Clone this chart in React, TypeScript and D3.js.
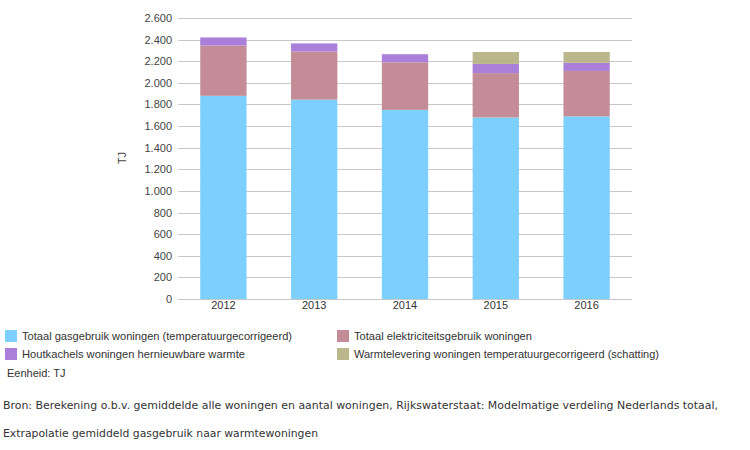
import React from "react";
import * as d3 from "d3";

const years = ["2012", "2013", "2014", "2015", "2016"];
const gas = [1880, 1845, 1750, 1680, 1690];
const elec = [465, 445, 440, 410, 420];
const wood = [75, 75, 75, 85, 75];
const heat = [0, 0, 0, 110, 100];
const yTicks = [0, 200, 400, 600, 800, 1000, 1200, 1400, 1600, 1800, 2000, 2200, 2400, 2600];

const seriesNames = [
  "Totaal gasgebruik woningen (temperatuurgecorrigeerd)",
  "Totaal elektriciteitsgebruik woningen",
  "Houtkachels woningen hernieuwbare warmte",
  "Warmtelevering woningen temperatuurgecorrigeerd (schatting)",
];
const colors = ["#7dd0fd", "#c48c97", "#a97fda", "#bbb78c"];
const unitText = "Eenheid: TJ";
const sourceLine1 =
  "Bron: Berekening o.b.v. gemiddelde alle woningen en aantal woningen, Rijkswaterstaat: Modelmatige verdeling Nederlands totaal,";
const sourceLine2 = "Extrapolatie gemiddeld gasgebruik naar warmtewoningen";

const nl = d3.formatLocale({ decimal: ",", thousands: ".", grouping: [3], currency: ["€", ""] });
const fmt = nl.format(",d");

export default function App() {
  const left = 178, right = 632, top = 18, bottom = 299;
  const x = d3.scaleBand().domain(years).range([left, right]).paddingInner(0.49).paddingOuter(0.245);
  const y = d3.scaleLinear().domain([0, 2600]).range([bottom, top]);
  const data = years.map((yr, i) => ({ year: yr, gas: gas[i], elec: elec[i], wood: wood[i], heat: heat[i] }));
  const stack = d3.stack<any>().keys(["gas", "elec", "wood", "heat"])(data);
  const font = "'Liberation Sans', Arial, sans-serif";

  const legendPos = [
    { sx: 5, sy: 330, tx: 22, ty: 340, len: 270 },
    { sx: 337, sy: 330, tx: 354, ty: 340, len: 178 },
    { sx: 5, sy: 348, tx: 22, ty: 358, len: 223 },
    { sx: 337, sy: 348, tx: 354, ty: 358, len: 305 },
  ];

  return (
    <svg width={750} height={450} style={{ position: "absolute", left: 0, top: 0, background: "#fff" }}>
      {yTicks.map((t) => (
        <g key={t}>
          <line x1={left} x2={right} y1={Math.round(y(t)) + 0.5} y2={Math.round(y(t)) + 0.5} stroke="#c8c8c8" strokeWidth={1} />
          <text x={172} y={y(t) + 4} textAnchor="end" fontFamily={font} fontSize={11} fill="#444">
            {fmt(t)}
          </text>
        </g>
      ))}
      {stack.map((layer, li) => (
        <g key={li} fill={colors[li]}>
          {layer.map((d, i) =>
            d[1] - d[0] > 0 ? (
              <rect key={i} x={x(years[i])} width={x.bandwidth()} y={y(d[1])} height={y(d[0]) - y(d[1])} />
            ) : null
          )}
        </g>
      ))}
      {years.map((yr) => (
        <text key={yr} x={(x(yr) as number) + x.bandwidth() / 2} y={309} textAnchor="middle" fontFamily={font} fontSize={11} fill="#333">
          {yr}
        </text>
      ))}
      <text transform={`translate(126,158) rotate(-90)`} textAnchor="middle" fontFamily={font} fontSize={11} fill="#444">
        TJ
      </text>
      {seriesNames.map((name, i) => (
        <g key={name}>
          <rect x={legendPos[i].sx} y={legendPos[i].sy} width={12} height={12} fill={colors[i]} />
          <text x={legendPos[i].tx} y={legendPos[i].ty} fontFamily={font} fontSize={11} fill="#333" textLength={legendPos[i].len} lengthAdjust="spacingAndGlyphs">
            {name}
          </text>
        </g>
      ))}
      <text x={7} y={377} fontFamily={font} fontSize={11} fill="#333">
        {unitText}
      </text>
      <text x={3} y={409} fontFamily="'DejaVu Sans', sans-serif" fontSize={11} fill="#333" textLength={715} lengthAdjust="spacingAndGlyphs">
        {sourceLine1}
      </text>
      <text x={3} y={437} fontFamily="'DejaVu Sans', sans-serif" fontSize={11} fill="#333" textLength={315} lengthAdjust="spacingAndGlyphs">
        {sourceLine2}
      </text>
    </svg>
  );
}
